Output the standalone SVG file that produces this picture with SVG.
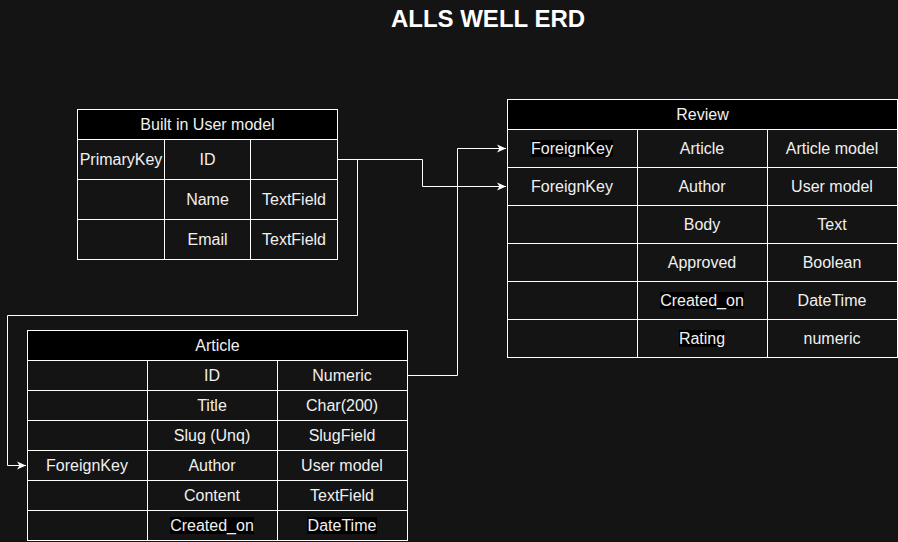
<svg xmlns="http://www.w3.org/2000/svg" width="898" height="542" viewBox="0 0 898 542">
<defs>
<style>
.bg{fill:#141414}
.cell{fill:#141414;stroke:#ffffff;stroke-width:1}
.head{fill:#000000;stroke:#ffffff;stroke-width:1}
.t{font-family:"Liberation Sans",Arial,sans-serif;font-size:16px;fill:#f0f0f0;text-anchor:middle}
.lbg{fill:#000000}
.title{font-family:"Liberation Sans",Arial,sans-serif;font-size:24px;font-weight:bold;fill:#ffffff;text-anchor:middle}
.conn{fill:none;stroke:#ffffff;stroke-width:1}
</style>
<marker id="arr" viewBox="0 0 10 10" refX="9" refY="5" markerWidth="10" markerHeight="10" markerUnits="userSpaceOnUse" orient="auto">
<path d="M0,1 L9,5 L0,9 L2.5,5 Z" fill="#ffffff"/>
</marker>
</defs>
<rect class="bg" x="0" y="0" width="898" height="542"/>
<text class="title" x="488" y="27">ALLS WELL ERD</text>

<g id="connectors">
<path class="conn" d="M337.5,159.5 H422.5 V186.5 H506" marker-end="url(#arr)"/>
<path class="conn" d="M337.5,159.5 H357.5 V315.5 H7.5 V465.5 H26" marker-end="url(#arr)"/>
<path class="conn" d="M407.5,375.5 H457.5 V148.5 H506" marker-end="url(#arr)"/>
</g>

<g id="user">
<rect class="head" x="77.5" y="109.5" width="260" height="30"/>
<text class="t" x="207.5" y="130">Built in User model</text>
<rect class="cell" x="77.5" y="139.5" width="87" height="40"/>
<rect class="cell" x="164.5" y="139.5" width="86" height="40"/>
<rect class="cell" x="250.5" y="139.5" width="87" height="40"/>
<rect class="cell" x="77.5" y="179.5" width="87" height="40"/>
<rect class="cell" x="164.5" y="179.5" width="86" height="40"/>
<rect class="cell" x="250.5" y="179.5" width="87" height="40"/>
<rect class="cell" x="77.5" y="219.5" width="87" height="40"/>
<rect class="cell" x="164.5" y="219.5" width="86" height="40"/>
<rect class="cell" x="250.5" y="219.5" width="87" height="40"/>
<text class="t" x="121" y="165">PrimaryKey</text>
<text class="t" x="207.5" y="165">ID</text>
<text class="t" x="207.5" y="205">Name</text>
<text class="t" x="294" y="205">TextField</text>
<text class="t" x="207.5" y="245">Email</text>
<text class="t" x="294" y="245">TextField</text>
</g>

<g id="review">
<rect class="head" x="507.5" y="99.5" width="390" height="30"/>
<text class="t" x="702.5" y="120">Review</text>
<rect class="cell" x="507.5" y="129.5" width="130" height="38"/>
<rect class="cell" x="637.5" y="129.5" width="130" height="38"/>
<rect class="cell" x="767.5" y="129.5" width="130" height="38"/>
<rect class="cell" x="507.5" y="167.5" width="130" height="38"/>
<rect class="cell" x="637.5" y="167.5" width="130" height="38"/>
<rect class="cell" x="767.5" y="167.5" width="130" height="38"/>
<rect class="cell" x="507.5" y="205.5" width="130" height="38"/>
<rect class="cell" x="637.5" y="205.5" width="130" height="38"/>
<rect class="cell" x="767.5" y="205.5" width="130" height="38"/>
<rect class="cell" x="507.5" y="243.5" width="130" height="38"/>
<rect class="cell" x="637.5" y="243.5" width="130" height="38"/>
<rect class="cell" x="767.5" y="243.5" width="130" height="38"/>
<rect class="cell" x="507.5" y="281.5" width="130" height="38"/>
<rect class="cell" x="637.5" y="281.5" width="130" height="38"/>
<rect class="cell" x="767.5" y="281.5" width="130" height="38"/>
<rect class="cell" x="507.5" y="319.5" width="130" height="38"/>
<rect class="cell" x="637.5" y="319.5" width="130" height="38"/>
<rect class="cell" x="767.5" y="319.5" width="130" height="38"/>
<rect class="lbg" x="531" y="140" width="82" height="17"/>
<rect class="lbg" x="660" y="292" width="84" height="17"/>
<rect class="lbg" x="679" y="330" width="46" height="17"/>
<text class="t" x="572" y="154">ForeignKey</text>
<text class="t" x="702" y="154">Article</text>
<text class="t" x="832" y="154">Article model</text>
<text class="t" x="572" y="192">ForeignKey</text>
<text class="t" x="702" y="192">Author</text>
<text class="t" x="832" y="192">User model</text>
<text class="t" x="702" y="230">Body</text>
<text class="t" x="832" y="230">Text</text>
<text class="t" x="702" y="268">Approved</text>
<text class="t" x="832" y="268">Boolean</text>
<text class="t" x="702" y="306">Created_on</text>
<text class="t" x="832" y="306">DateTime</text>
<text class="t" x="702" y="344">Rating</text>
<text class="t" x="832" y="344">numeric</text>
</g>

<g id="article">
<rect class="head" x="27.5" y="330.5" width="380" height="30"/>
<text class="t" x="217.5" y="351">Article</text>
<rect class="cell" x="27.5" y="360.5" width="120" height="30"/>
<rect class="cell" x="147.5" y="360.5" width="130" height="30"/>
<rect class="cell" x="277.5" y="360.5" width="130" height="30"/>
<rect class="cell" x="27.5" y="390.5" width="120" height="30"/>
<rect class="cell" x="147.5" y="390.5" width="130" height="30"/>
<rect class="cell" x="277.5" y="390.5" width="130" height="30"/>
<rect class="cell" x="27.5" y="420.5" width="120" height="30"/>
<rect class="cell" x="147.5" y="420.5" width="130" height="30"/>
<rect class="cell" x="277.5" y="420.5" width="130" height="30"/>
<rect class="cell" x="27.5" y="450.5" width="120" height="30"/>
<rect class="cell" x="147.5" y="450.5" width="130" height="30"/>
<rect class="cell" x="277.5" y="450.5" width="130" height="30"/>
<rect class="cell" x="27.5" y="480.5" width="120" height="30"/>
<rect class="cell" x="147.5" y="480.5" width="130" height="30"/>
<rect class="cell" x="277.5" y="480.5" width="130" height="30"/>
<rect class="cell" x="27.5" y="510.5" width="120" height="30"/>
<rect class="cell" x="147.5" y="510.5" width="130" height="30"/>
<rect class="cell" x="277.5" y="510.5" width="130" height="30"/>
<rect class="lbg" x="170" y="517" width="84" height="17"/>
<rect class="lbg" x="307" y="517" width="70" height="17"/>
<text class="t" x="212" y="381">ID</text>
<text class="t" x="342" y="381">Numeric</text>
<text class="t" x="212" y="411">Title</text>
<text class="t" x="342" y="411">Char(200)</text>
<text class="t" x="212" y="441">Slug (Unq)</text>
<text class="t" x="342" y="441">SlugField</text>
<text class="t" x="87" y="471">ForeignKey</text>
<text class="t" x="212" y="471">Author</text>
<text class="t" x="342" y="471">User model</text>
<text class="t" x="212" y="501">Content</text>
<text class="t" x="342" y="501">TextField</text>
<text class="t" x="212" y="531">Created_on</text>
<text class="t" x="342" y="531">DateTime</text>
</g>
</svg>
